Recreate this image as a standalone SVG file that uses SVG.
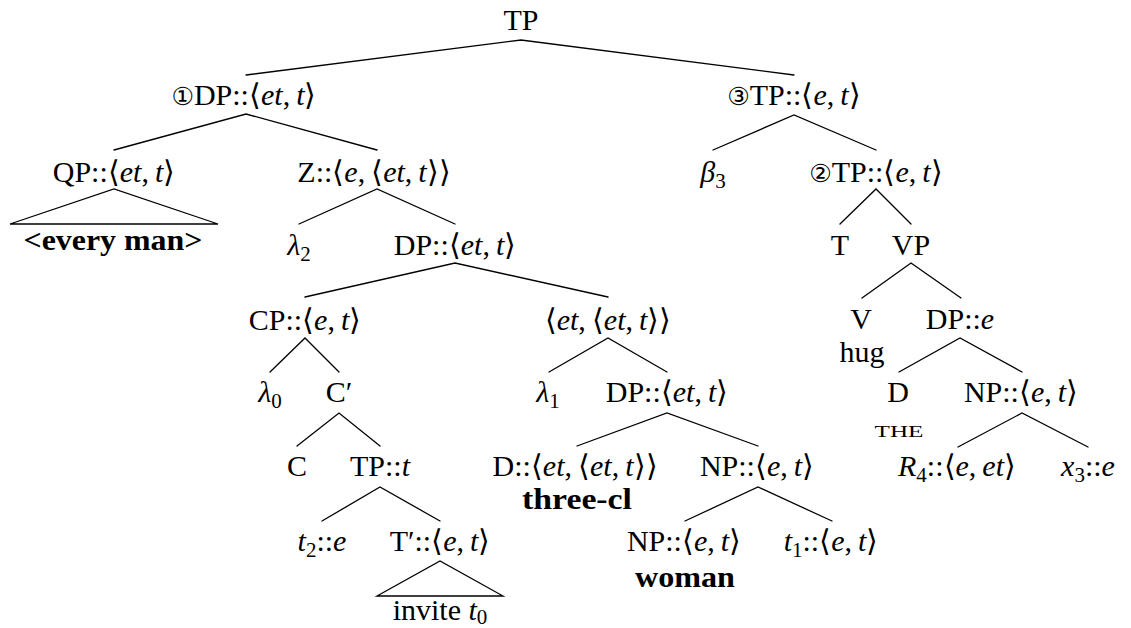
<svg xmlns="http://www.w3.org/2000/svg" width="1131" height="628" viewBox="0 0 1131 628">
<style>
.n{font-family:"Liberation Serif","DejaVu Serif",serif;font-size:30px;text-anchor:middle;fill:#000}
.i{font-style:italic}
.b{font-weight:bold}
.s{font-size:21px}
.a{font-family:"DejaVu Sans","Noto Sans",sans-serif;font-weight:300}
.c{font-family:"DejaVu Sans","Noto Sans CJK SC",sans-serif;font-size:25px}
.sc{font-size:17px}
.e{stroke:#000;stroke-width:1.3;fill:none;stroke-linecap:round}
</style>
<rect width="1131" height="628" fill="#fff"/>
<g id="connectors" class="e">
<polyline points="246,75 521,40 794,75"/>
<polyline points="114,150 246,114 377,150"/>
<polygon points="10,224 114,189 218,224"/>
<polyline points="299,224 377,189 455,224"/>
<polyline points="305,297 455,263 608,297"/>
<polyline points="270,372 305,338 339,372"/>
<polyline points="549,372 608,338 667,372"/>
<polyline points="297,446 339,413 380,446"/>
<polyline points="577,446 667,413 758,446"/>
<polyline points="322,521 380,487 440,521"/>
<polygon points="377,596 440,561 503,596"/>
<polyline points="685,521 758,487 832,521"/>
<polyline points="713,150 794,115 876,150"/>
<polyline points="840,224 876,189 911,224"/>
<polyline points="862,298 911,263 961,298"/>
<polyline points="899,372 960,338 1022,372"/>
<polyline points="958,447 1022,413 1088,447"/>
</g>
<g id="n-tp"><text class="n" x="521" y="30">TP</text></g>
<g id="n-dp1"><text class="n" x="244" y="105"><tspan class="c">①</tspan>DP::<tspan class="a">⟨</tspan><tspan class="i">et</tspan>,&#8201;<tspan class="i">t</tspan><tspan class="a">⟩</tspan></text></g>
<g id="n-tp3"><text class="n" x="794" y="105"><tspan class="c">③</tspan>TP::<tspan class="a">⟨</tspan><tspan class="i">e</tspan>,&#8201;<tspan class="i">t</tspan><tspan class="a">⟩</tspan></text></g>
<g id="n-qp"><text class="n" x="114" y="182">QP::<tspan class="a">⟨</tspan><tspan class="i">et</tspan>,&#8201;<tspan class="i">t</tspan><tspan class="a">⟩</tspan></text>
<text class="n b" x="113" y="250" textLength="179" lengthAdjust="spacingAndGlyphs">&lt;every man&gt;</text></g>
<g id="n-z"><text class="n" x="374" y="182">Z::<tspan class="a">⟨</tspan><tspan class="i">e</tspan>,&#8201;<tspan class="a">⟨</tspan><tspan class="i">et</tspan>,&#8201;<tspan class="i">t</tspan><tspan class="a">⟩⟩</tspan></text></g>
<g id="n-lambda2"><text class="n" x="299" y="255"><tspan class="i">λ</tspan><tspan class="s" dy="6">2</tspan></text></g>
<g id="n-dp2"><text class="n" x="455" y="255">DP::<tspan class="a">⟨</tspan><tspan class="i">et</tspan>,&#8201;<tspan class="i">t</tspan><tspan class="a">⟩</tspan></text></g>
<g id="n-cp"><text class="n" x="305" y="330">CP::<tspan class="a">⟨</tspan><tspan class="i">e</tspan>,&#8201;<tspan class="i">t</tspan><tspan class="a">⟩</tspan></text></g>
<g id="n-etet"><text class="n" x="608" y="330"><tspan class="a">⟨</tspan><tspan class="i">et</tspan>,&#8201;<tspan class="a">⟨</tspan><tspan class="i">et</tspan>,&#8201;<tspan class="i">t</tspan><tspan class="a">⟩⟩</tspan></text></g>
<g id="n-lambda0"><text class="n" x="270" y="402"><tspan class="i">λ</tspan><tspan class="s" dy="6">0</tspan></text></g>
<g id="n-cbar"><text class="n" x="339" y="402">C′</text></g>
<g id="n-c"><text class="n" x="297" y="476">C</text></g>
<g id="n-tpt"><text class="n" x="380" y="476">TP::<tspan class="i">t</tspan></text></g>
<g id="n-t2"><text class="n" x="322" y="551"><tspan class="i">t</tspan><tspan class="s" dy="6">2</tspan><tspan dy="-6">::</tspan><tspan class="i">e</tspan></text></g>
<g id="n-tbar"><text class="n" x="440" y="551">T′::<tspan class="a">⟨</tspan><tspan class="i">e</tspan>,&#8201;<tspan class="i">t</tspan><tspan class="a">⟩</tspan></text>
<text class="n" x="440" y="620">invite <tspan class="i">t</tspan><tspan class="s" dy="4">0</tspan></text></g>
<g id="n-lambda1"><text class="n" x="548" y="402"><tspan class="i">λ</tspan><tspan class="s" dy="6">1</tspan></text></g>
<g id="n-dp3"><text class="n" x="667" y="402">DP::<tspan class="a">⟨</tspan><tspan class="i">et</tspan>,&#8201;<tspan class="i">t</tspan><tspan class="a">⟩</tspan></text></g>
<g id="n-d1"><text class="n" x="575" y="476">D::<tspan class="a">⟨</tspan><tspan class="i">et</tspan>,&#8201;<tspan class="a">⟨</tspan><tspan class="i">et</tspan>,&#8201;<tspan class="i">t</tspan><tspan class="a">⟩⟩</tspan></text>
<text class="n b" x="577" y="509" textLength="110" lengthAdjust="spacingAndGlyphs">three-cl</text></g>
<g id="n-np1"><text class="n" x="757" y="476">NP::<tspan class="a">⟨</tspan><tspan class="i">e</tspan>,&#8201;<tspan class="i">t</tspan><tspan class="a">⟩</tspan></text></g>
<g id="n-np2"><text class="n" x="684" y="551">NP::<tspan class="a">⟨</tspan><tspan class="i">e</tspan>,&#8201;<tspan class="i">t</tspan><tspan class="a">⟩</tspan></text>
<text class="n b" x="685" y="587" textLength="100" lengthAdjust="spacingAndGlyphs">woman</text></g>
<g id="n-t1"><text class="n" x="831" y="551"><tspan class="i">t</tspan><tspan class="s" dy="6">1</tspan><tspan dy="-6">::</tspan><tspan class="a">⟨</tspan><tspan class="i">e</tspan>,&#8201;<tspan class="i">t</tspan><tspan class="a">⟩</tspan></text></g>
<g id="n-beta3"><text class="n" x="713" y="182"><tspan class="i">β</tspan><tspan class="s" dy="6">3</tspan></text></g>
<g id="n-tp2"><text class="n" x="876" y="182"><tspan class="c">②</tspan>TP::<tspan class="a">⟨</tspan><tspan class="i">e</tspan>,&#8201;<tspan class="i">t</tspan><tspan class="a">⟩</tspan></text></g>
<g id="n-t"><text class="n" x="840" y="255">T</text></g>
<g id="n-vp"><text class="n" x="911" y="255">VP</text></g>
<g id="n-v"><text class="n" x="861" y="329">V</text>
<text class="n" x="862" y="362">hug</text></g>
<g id="n-dpe"><text class="n" x="960" y="329">DP::<tspan class="i">e</tspan></text></g>
<g id="n-d2"><text class="n" x="898" y="402">D</text>
<text class="n sc" x="899" y="437" textLength="49" lengthAdjust="spacingAndGlyphs">THE</text></g>
<g id="n-np3"><text class="n" x="1021" y="402">NP::<tspan class="a">⟨</tspan><tspan class="i">e</tspan>,&#8201;<tspan class="i">t</tspan><tspan class="a">⟩</tspan></text></g>
<g id="n-r4"><text class="n" x="957" y="476"><tspan class="i">R</tspan><tspan class="s" dy="6">4</tspan><tspan dy="-6">::</tspan><tspan class="a">⟨</tspan><tspan class="i">e</tspan>,&#8201;<tspan class="i">et</tspan><tspan class="a">⟩</tspan></text></g>
<g id="n-x3"><text class="n" x="1088" y="476"><tspan class="i">x</tspan><tspan class="s" dy="6">3</tspan><tspan dy="-6">::</tspan><tspan class="i">e</tspan></text></g>
</svg>
